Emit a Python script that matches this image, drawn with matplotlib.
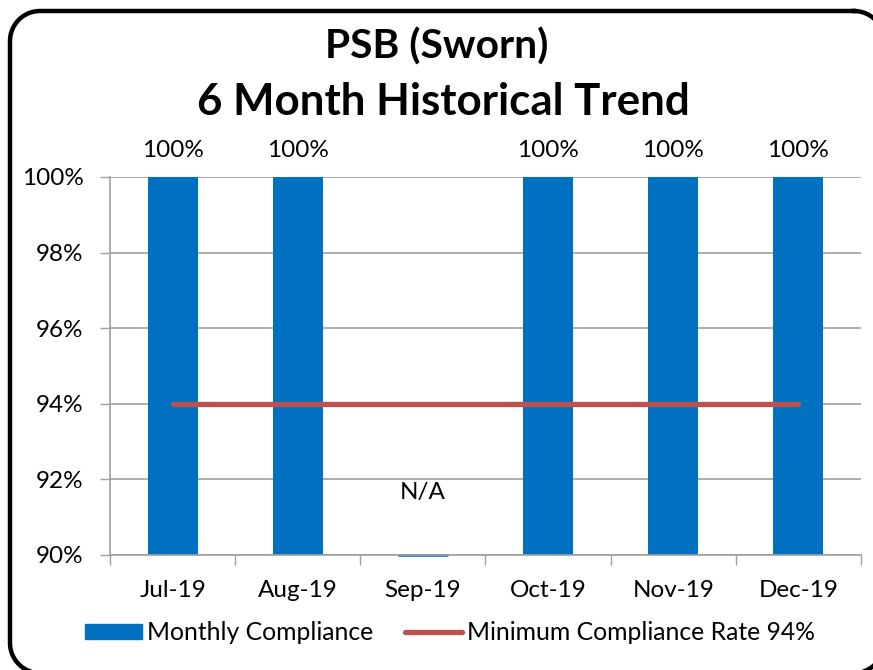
import numpy as np
import matplotlib
matplotlib.use("Agg")
import matplotlib.pyplot as plt
from matplotlib.patches import Patch
from matplotlib.lines import Line2D

plt.rcParams['font.family'] = ['Lato', 'DejaVu Sans']

months = ["Jul-19", "Aug-19", "Sep-19", "Oct-19", "Nov-19", "Dec-19"]
compliance = [100, 100, np.nan, 100, 100, 100]
minimum_rate = [94, 94, 94, 94, 94, 94]
bar_labels = ["100%", "100%", "N/A", "100%", "100%", "100%"]
yticks = [90, 92, 94, 96, 98, 100]
title_lines = ["PSB (Sworn)", "6 Month Historical Trend"]
legend_labels = ["Monthly Compliance", "Minimum Compliance Rate 94%"]

BLUE = "#0070C0"
RED = "#C0504D"
GRID = "#A0A0A0"

W, H = 873, 670
DPI = 100
fig = plt.figure(figsize=(W / DPI, H / DPI), dpi=DPI)
ax = fig.add_axes([110 / W, 1 - 555 / H, (861 - 110) / W, (555 - 177) / H])

x = np.arange(len(months))
ymin, ymax = yticks[0], yticks[-1]
vals = np.array(compliance, dtype=float)
ax.bar(x, vals, width=0.4, color=BLUE, zorder=2)
# N/A months: zero-height bar at the axis floor
for xi, v in zip(x, vals):
    if np.isnan(v):
        ax.bar(xi, 0, bottom=ymin, width=0.4, color=BLUE, edgecolor=BLUE,
               linewidth=1.8, zorder=1, clip_on=False)

ax.plot(x, minimum_rate, color=RED, lw=3.8, solid_capstyle='round', zorder=3)

for xi, v, lab in zip(x, vals, bar_labels):
    if np.isnan(v):
        ax.text(xi, 91.65, lab, ha='center', va='center', fontsize=17.5)
    else:
        ax.text(xi, v + 0.42, lab, ha='center', va='bottom', fontsize=17.5)

ax.set_ylim(ymin, ymax)
ax.set_xlim(-0.5, len(months) - 0.5)
ax.set_yticks(yticks)
ax.set_yticklabels([f"{t}%" for t in yticks], fontsize=17.5)
ax.set_xticks(x)
ax.set_xticklabels(months, fontsize=17.5)
ax.set_xticks(np.arange(len(months) + 1) - 0.5, minor=True)
ax.tick_params(axis='x', which='major', length=0, pad=18)
ax.tick_params(axis='x', which='minor', length=7, width=1, color=GRID, direction='out')
ax.tick_params(axis='y', length=7, width=1, color=GRID, pad=12)
ax.yaxis.grid(True, color=GRID, lw=1.2, zorder=0)
ax.set_axisbelow(True)
for s in ['top', 'right']:
    ax.spines[s].set_visible(False)
for s in ['left', 'bottom']:
    ax.spines[s].set_color(GRID)
    ax.spines[s].set_linewidth(1.2)

t1 = fig.text(437 / W, 1 - 47 / H, title_lines[0], ha='center', va='center',
              fontsize=28, fontweight='bold')
t2 = fig.text(443 / W, 1 - 102 / H, title_lines[1], ha='center', va='center',
              fontsize=28, fontweight='bold')

handles = [Patch(facecolor=BLUE, edgecolor=BLUE),
           Line2D([0], [0], color=RED, lw=3.8, solid_capstyle='round')]
fig.legend(handles, legend_labels, loc='center', bbox_to_anchor=(450 / W, 1 - 633 / H),
           ncol=2, frameon=False, fontsize=17.8, handlelength=2.3, handleheight=0.55,
           handletextpad=0.2, columnspacing=1.3, borderaxespad=0)

# rounded chart border in pixel space (y down), running off right/bottom edges
def rounded_rect(l, t, r, b, rad, n=30):
    pts = []
    corners = [((r - rad, t + rad), -90, 0), ((r - rad, b - rad), 0, 90),
               ((l + rad, b - rad), 90, 180), ((l + rad, t + rad), 180, 270)]
    for (cx, cy), a0, a1 in corners:
        a = np.radians(np.linspace(a0, a1, n))
        pts.append(np.column_stack([cx + rad * np.cos(a), cy + rad * np.sin(a)]))
    pts = np.vstack(pts + [pts[0][:1]])
    return pts

p = rounded_rect(10, 11, 884, 673, 30)
fig.add_artist(Line2D(p[:, 0] / W, 1 - p[:, 1] / H, transform=fig.transFigure,
                      color='black', lw=3.2, clip_on=False))

# fit title widths to the reference
fig.canvas.draw()
r = fig.canvas.get_renderer()
for t, target in ((t1, 223), (t2, 493)):
    bbx = t.get_window_extent(r)
    t.set_fontsize(t.get_fontsize() * target / bbx.width)

fig.savefig("out.png", dpi=DPI)
